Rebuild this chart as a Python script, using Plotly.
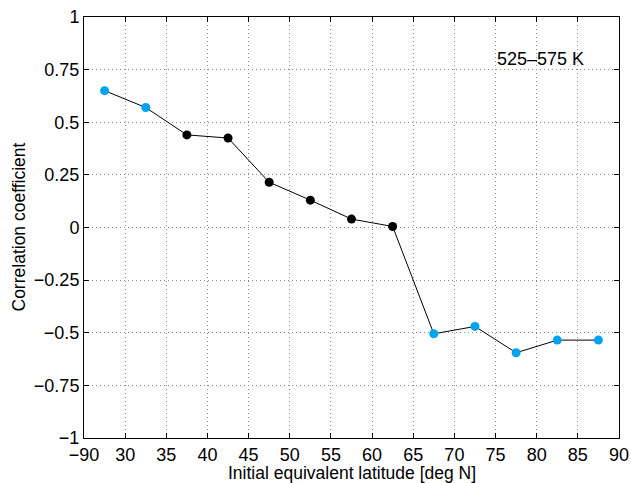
import plotly.graph_objects as go

lat = [27.5, 32.5, 37.5, 42.5, 47.5, 52.5, 57.5, 62.5, 67.5, 72.5, 77.5, 82.5, 87.5]
corr = [0.65, 0.57, 0.44, 0.425, 0.215, 0.13, 0.04, 0.005, -0.505, -0.47, -0.595, -0.535, -0.535]
colors = ["#00a2f2", "#00a2f2", "black", "black", "black", "black", "black", "black",
          "#00a2f2", "#00a2f2", "#00a2f2", "#00a2f2", "#00a2f2"]
xtickvals = [25, 30, 35, 40, 45, 50, 55, 60, 65, 70, 75, 80, 85, 90]
xticktext = ["\u221290", "30", "35", "40", "45", "50", "55", "60", "65", "70", "75", "80", "85", "90"]
ytickvals = [-1, -0.75, -0.5, -0.25, 0, 0.25, 0.5, 0.75, 1]
yticktext = ["\u22121", "\u22120.75", "\u22120.5", "\u22120.25", "0", "0.25", "0.5", "0.75", "1"]

fig = go.Figure()
fig.add_trace(go.Scatter(
    x=lat, y=corr, mode="lines+markers",
    line=dict(color="black", width=1),
    marker=dict(color=colors, size=9, line=dict(width=0)),
    showlegend=False,
))
fig.add_annotation(x=80.5, y=0.8, xref="x", yref="y", text="525\u2013575 K",
                   showarrow=False, xanchor="center", yanchor="middle",
                   font=dict(size=18, color="black"))
fig.add_annotation(x=0.5, y=0, xref="paper", yref="paper", text="Initial equivalent latitude [deg N]",
                   showarrow=False, xanchor="center", yanchor="top", yshift=-23,
                   font=dict(size=17.5, color="black"))
fig.add_annotation(x=0, y=0.5, xref="paper", yref="paper", text="Correlation coefficient",
                   showarrow=False, xanchor="center", yanchor="middle", xshift=-66, textangle=-90,
                   font=dict(size=17.5, color="black"))

axis_common = dict(
    showline=True, linecolor="black", linewidth=1, mirror="allticks",
    ticks="inside", ticklen=5, tickcolor="black",
    showgrid=True, gridcolor="#8a8a8a", griddash="1px,3px", gridwidth=1,
    zeroline=False, tickfont=dict(size=18, color="black"), automargin=False,
)
fig.update_xaxes(range=[25, 90], tickvals=xtickvals, ticktext=xticktext, **axis_common)
fig.update_yaxes(range=[-1, 1], tickvals=ytickvals, ticktext=yticktext, **axis_common)
fig.update_layout(
    width=631, height=483,
    margin=dict(l=84, r=12, t=17, b=45),
    plot_bgcolor="white", paper_bgcolor="white",
    font=dict(family="Liberation Sans, Arial, sans-serif", color="black"),
)
fig.write_html("out.html")
